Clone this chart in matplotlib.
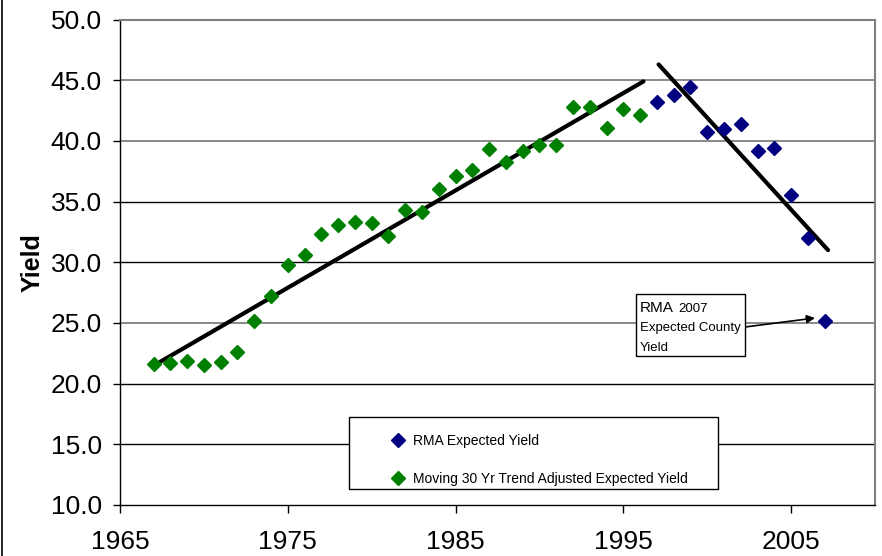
import matplotlib
matplotlib.use('Agg')
import matplotlib.pyplot as plt
from matplotlib.patches import Rectangle
from matplotlib.lines import Line2D
from matplotlib import font_manager

plt.rcParams['font.family'] = ['Liberation Sans', 'DejaVu Sans']

# Moving 30 yr trend adjusted expected yield (green)
trend_years = list(range(1967, 1997))
trend_yield = [21.6, 21.7, 21.9, 21.5, 21.8, 22.6, 25.2, 27.2, 29.8, 30.6,
               32.3, 33.1, 33.3, 33.2, 32.2, 34.3, 34.1, 36.0, 37.1, 37.6,
               39.3, 38.3, 39.2, 39.7, 39.7, 42.8, 42.8, 41.1, 42.6, 42.1]

# RMA expected yield (navy)
rma_years = list(range(1997, 2008))
rma_yield = [43.2, 43.8, 44.4, 40.7, 41.0, 41.4, 39.2, 39.4, 35.5, 32.0, 25.2]

# hand drawn trend lines (start, end)
line_up_x = [1967.4, 1996.2]
line_up_y = [21.8, 44.9]
line_down_x = [1997.1, 2007.2]
line_down_y = [46.3, 31.0]

y_ticks = [10, 15, 20, 25, 30, 35, 40, 45, 50]
x_ticks = [1965, 1975, 1985, 1995, 2005]
grid_colors = {15: 'black', 20: 'black', 25: '#808080', 30: 'black',
               35: 'black', 40: '#808080', 45: '#808080'}

names = set(f.name for f in font_manager.fontManager.ttflist)
tick_font = 'Liberation Sans Narrow' if 'Liberation Sans Narrow' in names else 'Liberation Sans'
print(tick_font)

fig = plt.figure(figsize=(8.82, 5.56), dpi=100)
ax = fig.add_axes([120 / 882, 1 - 505 / 556, 755 / 882, 485.5 / 556])

for v, c in grid_colors.items():
    ax.axhline(v, color=c, lw=1.3 if c != 'black' else 1.0, zorder=1)

ax.plot(line_up_x, line_up_y, color='black', lw=3, solid_capstyle='round', zorder=2)
ax.plot(line_down_x, line_down_y, color='black', lw=3, solid_capstyle='round', zorder=2)

ax.plot(rma_years, rma_yield, ls='none', marker='D', ms=7.5, color='#000080',
        label='RMA Expected Yield', zorder=3)
ax.plot(trend_years, trend_yield, ls='none', marker='D', ms=7.5, color='#008000',
        label='Moving 30 Yr Trend Adjusted Expected Yield', zorder=3)

ax.set_xlim(1965, 2010)
ax.set_ylim(10, 50)
ax.set_xticks(x_ticks)
ax.set_yticks(y_ticks)
ax.set_yticklabels(['{0:.1f}'.format(v) for v in y_ticks])
ax.tick_params(axis='y', direction='out', length=5, width=1, pad=8, labelsize=19,
               labelfontfamily=tick_font)
ax.tick_params(axis='x', direction='out', length=6, width=1, pad=12, labelsize=19,
               labelfontfamily=tick_font)
for s in ['top', 'right']:
    ax.spines[s].set_color('#808080')
    ax.spines[s].set_linewidth(1.5)
for s in ['left', 'bottom']:
    ax.spines[s].set_color('black')
    ax.spines[s].set_linewidth(1.0)

fig.text(33 / 882, 1 - 263 / 556, 'Yield', rotation=90, fontsize=18,
         fontweight='bold', ha='center', va='center')

# legend box
ax.add_patch(Rectangle((349 / 882, 1 - 489 / 556), 369 / 882, 72 / 556,
                       transform=fig.transFigure, facecolor='white',
                       edgecolor='black', lw=1.0, zorder=5, clip_on=False))
handles, labels = ax.get_legend_handles_labels()
leg = ax.legend(handles, labels, loc='upper left', frameon=False,
                bbox_to_anchor=(391 / 882, 1 - 434 / 556), bbox_transform=fig.transFigure,
                fontsize=10, handlelength=1.0, handletextpad=0.55, labelspacing=1.75,
                borderpad=0, borderaxespad=0)
leg.set_zorder(6)

# annotation box for 2007
ax.add_patch(Rectangle((636 / 882, 1 - 356 / 556), 109 / 882, 62 / 556,
                       transform=fig.transFigure, facecolor='white', edgecolor='black',
                       lw=1.0, zorder=5, clip_on=False))
fig.text(640 / 882, 1 - 312 / 556, 'RMA', fontsize=11, va='baseline', zorder=6)
fig.text(678 / 882, 1 - 312 / 556, '2007', fontsize=9.5, va='baseline', zorder=6)
fig.text(640 / 882, 1 - 331 / 556, 'Expected County', fontsize=9.5, va='baseline', zorder=6)
fig.text(640 / 882, 1 - 351 / 556, 'Yield', fontsize=9.5, va='baseline', zorder=6)
ax.annotate('', xy=(815 / 882, 1 - 318 / 556), xytext=(745 / 882, 1 - 327 / 556),
            xycoords='figure fraction', textcoords='figure fraction',
            arrowprops=dict(arrowstyle='-|>', color='black', lw=1.2,
                            mutation_scale=12, shrinkA=0, shrinkB=0))

# frame edge at left of picture
fig.add_artist(Line2D([2 / 882, 2 / 882], [0, 1], color='black', lw=1.2,
                      transform=fig.transFigure))

fig.savefig('out.png', dpi=100)
